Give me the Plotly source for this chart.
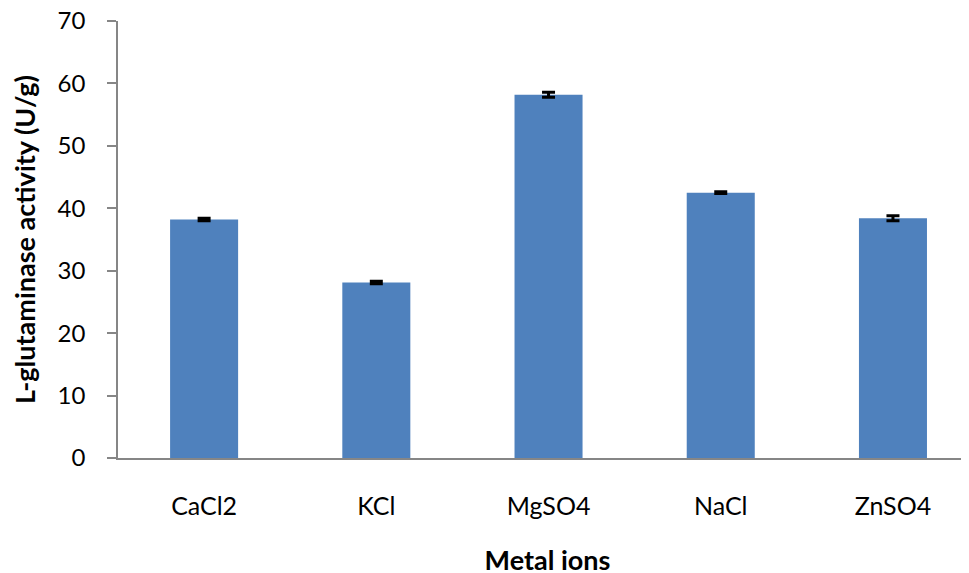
import plotly.graph_objects as go

categories = ["CaCl2", "KCl", "MgSO4", "NaCl", "ZnSO4"]
activity = [38.2, 28.1, 58.2, 42.5, 38.4]
errors = [0.2, 0.2, 0.4, 0.15, 0.4]
y_ticks = [0, 10, 20, 30, 40, 50, 60, 70]

fig = go.Figure()
fig.add_trace(go.Bar(
    x=categories, y=activity,
    width=0.395,
    marker=dict(color="#4F81BD", line=dict(width=0)),
    error_y=dict(type="data", array=errors, visible=True,
                 color="black", thickness=3, width=6.5),
))

fig.update_layout(
    width=969, height=573,
    margin=dict(l=109.5, r=0, t=12.7, b=123.3, autoexpand=False),
    paper_bgcolor="white", plot_bgcolor="white",
    font=dict(family="Lato", color="black"),
    showlegend=False,
    xaxis=dict(
        range=[-0.5, 4.488], automargin=False,
        showline=True, linecolor="#868686", linewidth=2,
        ticks="", showgrid=False, zeroline=False,
        tickfont=dict(size=25, family="Lato"),
        ticklabelstandoff=25,
        title=dict(text="<b>Metal ions</b>", font=dict(size=27, family="Lato"), standoff=32),
    ),
    yaxis=dict(
        range=[0, 70], tickvals=y_ticks, automargin=False,
        ticklabeloverflow="allow",
        showline=True, linecolor="#868686", linewidth=1.5,
        ticks="outside", ticklen=9, tickcolor="#868686", tickwidth=1.5,
        showgrid=False, zeroline=False,
        tickfont=dict(size=24, family="Lato"),
        ticklabelstandoff=17,
        title=dict(text="<b>L-glutaminase activity (U/g)</b>", font=dict(size=27, family="Lato"), standoff=18),
    ),
)

fig.write_html("out.html")
